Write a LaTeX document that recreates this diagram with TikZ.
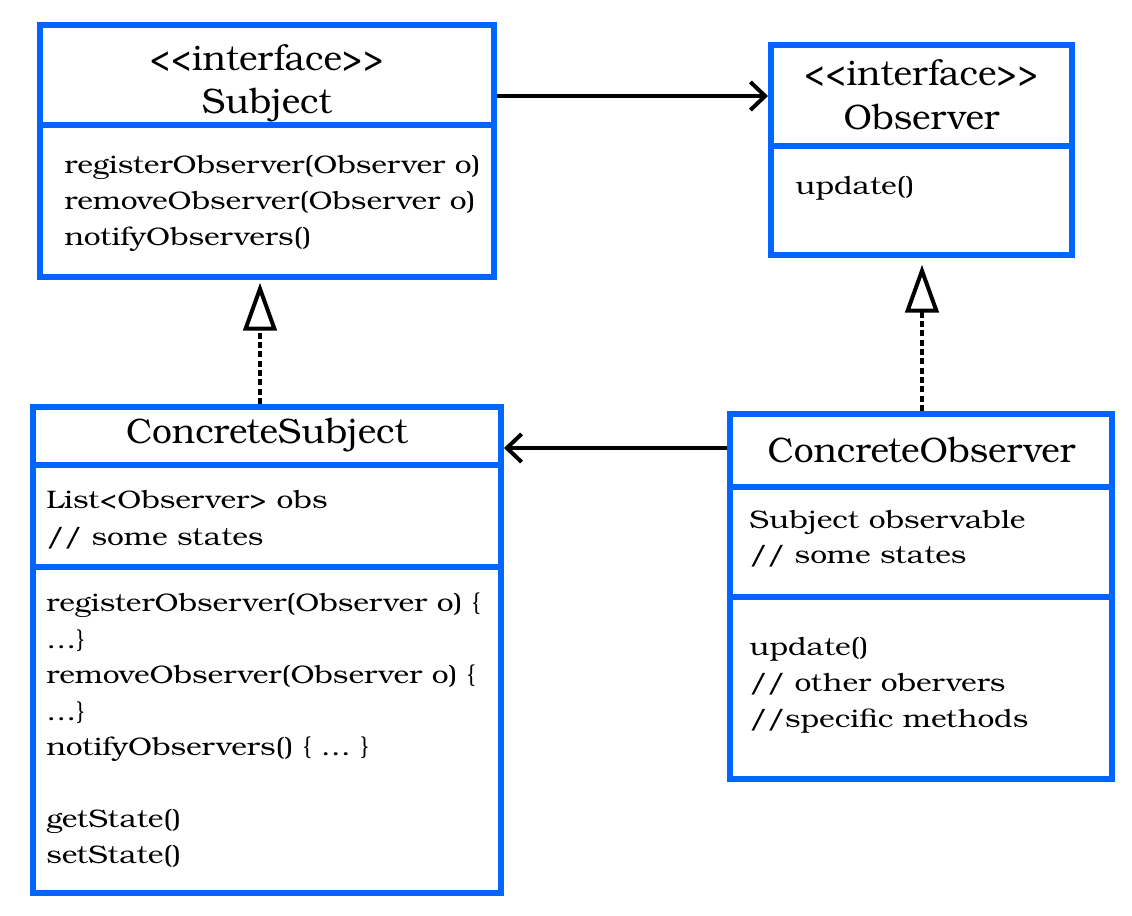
\documentclass[tikz,border=0pt]{standalone}
\usepackage{fontspec}
\setmainfont{TeX Gyre Bonum}
\newfontfamily\bodyfont{TeX Gyre Bonum}[FakeStretch=1.18]
\usetikzlibrary{arrows.meta}
\definecolor{umlblue}{HTML}{0066FF}
\tikzset{
  umlbox/.style={draw=umlblue, line width=4.5pt, inner sep=0pt, fill=none},
  divider/.style={draw=umlblue, line width=4.5pt},
  txt/.style={anchor=base west, inner sep=0pt, font=\bodyfont\fontsize{19}{24}\selectfont},
  ttl/.style={anchor=base, inner sep=0pt, font=\fontsize{26.5}{30}\selectfont},
  assoc/.style={draw=black, line width=3pt, -{Straight Barb[length=11pt,width=21pt,line width=3pt]}},
  realize/.style={draw=black, line width=3pt, dash pattern=on 4.5pt off 2.5pt,
    -{Triangle[open,length=36pt,width=25pt,line width=3pt]}, shorten >=2pt}
}
\begin{document}
\begin{tikzpicture}[x=0.75pt,y=-0.75pt]
\useasboundingbox (0,0) rectangle (1132,915);

% boxes
\node[umlbox, minimum width=340.5pt, minimum height=189pt] (subj) at (267,151) {};
\node[umlbox, minimum width=225.75pt, minimum height=157.5pt] (obs) at (921.5,150) {};
\node[umlbox, minimum width=351pt, minimum height=364.5pt] (csub) at (267,650) {};
\node[umlbox, minimum width=286.5pt, minimum height=273.75pt] (cobs) at (921,596.5) {};

% dividers
\draw[divider] (subj.west |- 0,125) -- (subj.east |- 0,125);
\draw[divider] (obs.west |- 0,146) -- (obs.east |- 0,146);
\draw[divider] (csub.west |- 0,465) -- (csub.east |- 0,465);
\draw[divider] (csub.west |- 0,567) -- (csub.east |- 0,567);
\draw[divider] (cobs.west |- 0,487) -- (cobs.east |- 0,487);
\draw[divider] (cobs.west |- 0,597) -- (cobs.east |- 0,597);

% Subject texts
\node[ttl] (subjst) at (267,70) {{<}{<}interface{>}{>}};
\node[ttl] (subjname) at (267,113) {Subject};
\node[txt] (subjm1) at (64,173) {registerObserver(Observer o)};
\node[txt] (subjm2) at (64,209) {removeObserver(Observer o)};
\node[txt] (subjm3) at (64,245) {notifyObservers()};

% Observer texts
\node[ttl] (obsst) at (921.5,85) {{<}{<}interface{>}{>}};
\node[ttl] (obsname) at (921.5,129) {Observer};
\node[txt] (obsm1) at (795,194) {update()};

% ConcreteSubject texts
\node[ttl] (csubname) at (267,443) {ConcreteSubject};
\node[txt] (csuba1) at (46,508) {List{<}Observer{>} obs};
\node[txt] (csuba2) at (46,545) {// some states};
\node[txt] (csubm1) at (46,611) {registerObserver(Observer o) \{};
\node[txt] (csubm2) at (46,648) {…\}};
\node[txt] (csubm3) at (46,683) {removeObserver(Observer o) \{};
\node[txt] (csubm4) at (46,720) {…\}};
\node[txt] (csubm5) at (46,755) {notifyObservers() \{ … \}};
\node[txt] (csubm6) at (46,827) {getState()};
\node[txt] (csubm7) at (46,863) {setState()};

% ConcreteObserver texts
\node[ttl] (cobsname) at (921.5,462) {ConcreteObserver};
\node[txt] (cobsa1) at (749,528) {Subject observable};
\node[txt] (cobsa2) at (749,563) {// some states};
\node[txt] (cobsm1) at (749,655) {update()};
\node[txt] (cobsm2) at (749,691) {// other obervers};
\node[txt] (cobsm3) at (749,727) {//specific methods};

% connectors
\draw[assoc] (subj.east |- 0,96) -- (obs.west |- 0,96);
\draw[assoc] (cobs.west |- 0,448) -- (csub.east |- 0,448);
\draw[realize] (csub.north -| 260,0) -- (subj.south -| 260,0);
\draw[realize, shorten >=5pt] (cobs.north -| 922,0) -- (obs.south -| 922,0);
\end{tikzpicture}
\end{document}
